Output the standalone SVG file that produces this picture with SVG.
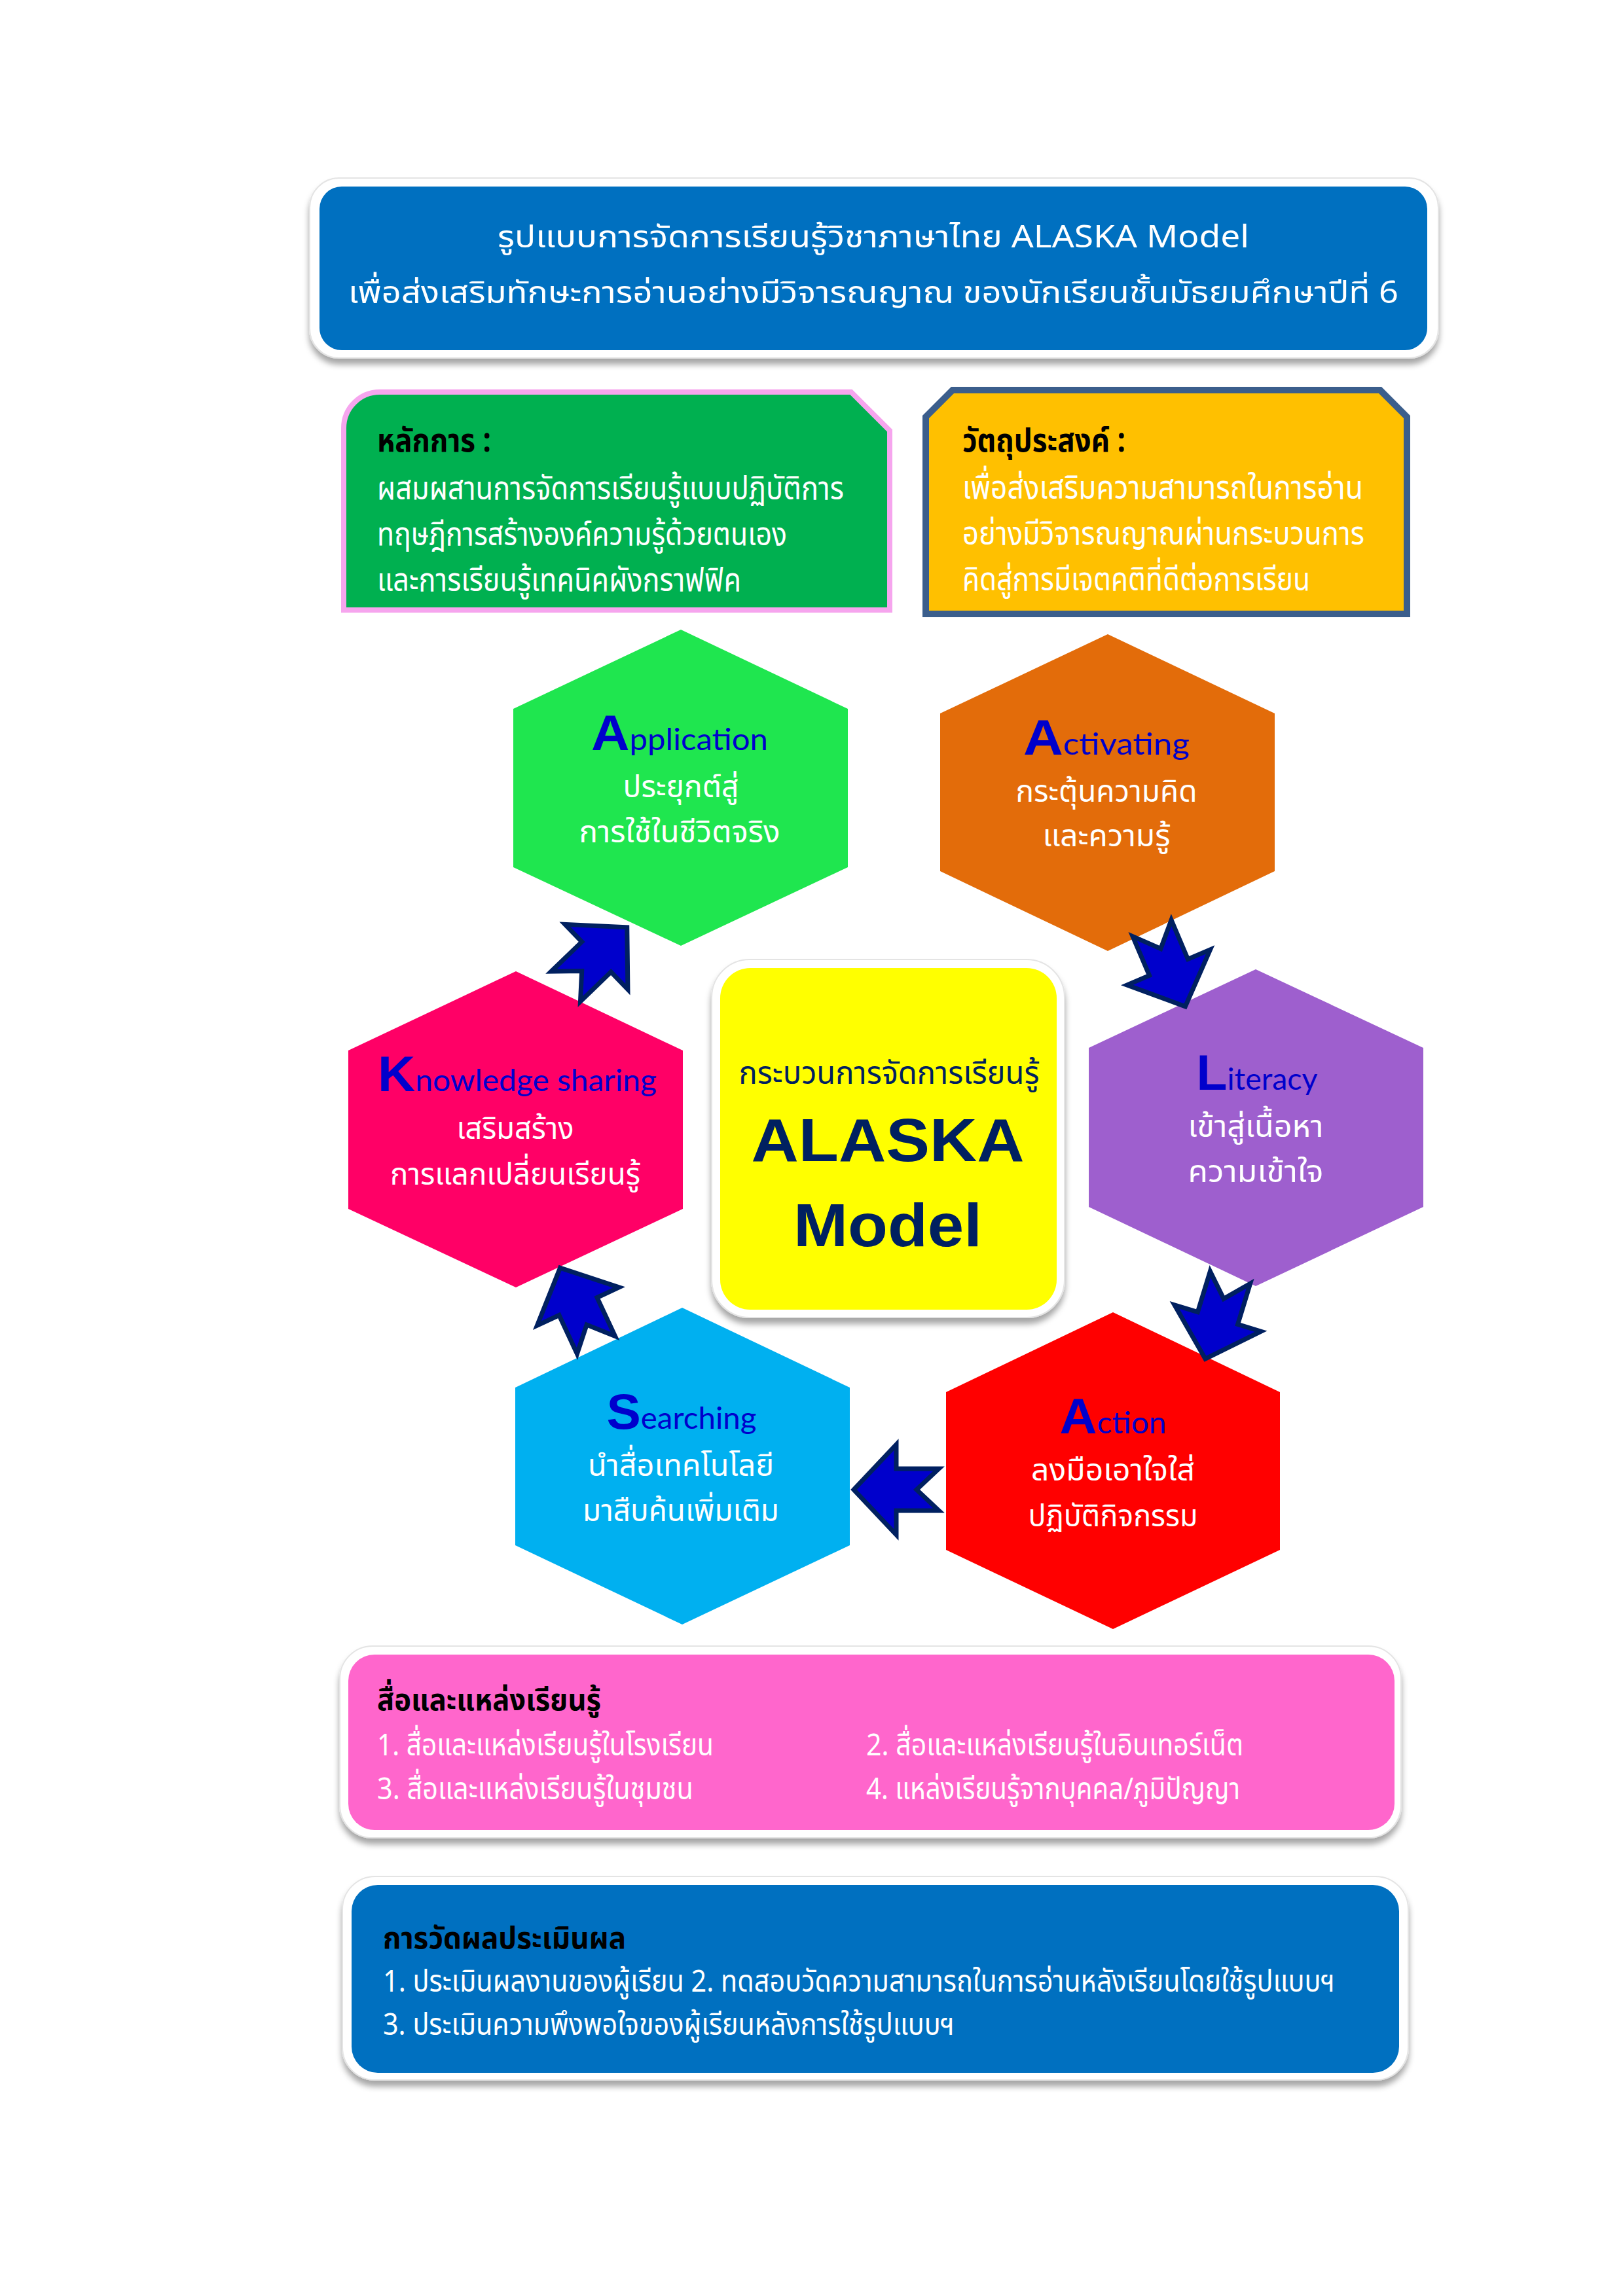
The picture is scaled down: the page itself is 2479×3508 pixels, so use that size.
<svg xmlns="http://www.w3.org/2000/svg" width="2479" height="3508" viewBox="0 0 2479 3508">
<defs>
<style>
.th{font-family:"Noto Sans Thai","Noto Sans Thai UI","Leelawadee UI",Tahoma,"Noto Sans","DejaVu Sans",sans-serif;}
.w{fill:#FFFFFF;}
.k{fill:#000000;}
.bd{font-weight:bold;}
.hx{font-size:47px;text-anchor:middle;}
.en{font-family:Lato,"Open Sans","Noto Sans",sans-serif;fill:#0000CC;font-size:46px;text-anchor:middle;}
.big{font-family:"Liberation Sans",Arial,sans-serif;font-weight:bold;font-size:76px;}
.frame{fill:#FFFFFF;stroke:#E4E4E4;stroke-width:2;filter:url(#sh);}
.arrow{fill:#0000CC;stroke:#002060;stroke-width:7;stroke-linejoin:miter;}
</style>
<filter id="sh" x="-5%" y="-10%" width="110%" height="130%">
<feDropShadow dx="0" dy="9" stdDeviation="5" flood-color="#000000" flood-opacity="0.35"/>
</filter>
<polygon id="arr" points="-65,-32 0,-32 0,-69 65,0 0,69 0,32 -65,32 -31,0"/>
</defs>
<rect width="2479" height="3508" fill="#FFFFFF"/>

<g id="title">
<rect class="frame" x="473" y="272" width="1724" height="275" rx="45"/>
<rect x="488" y="285" width="1692" height="250" rx="34" fill="#0070C0"/>
<text class="th w" x="1334" y="378" font-size="47" text-anchor="middle" textLength="1148" lengthAdjust="spacingAndGlyphs">รูปแบบการจัดการเรียนรู้วิชาภาษาไทย ALASKA Model</text>
<text class="th w" x="1334" y="463" font-size="47" text-anchor="middle" textLength="1604" lengthAdjust="spacingAndGlyphs">เพื่อส่งเสริมทักษะการอ่านอย่างมีวิจารณญาณ ของนักเรียนชั้นมัธยมศึกษาปีที่ 6</text>
</g>

<g id="principle">
<path d="M580,599 L1300,599 L1359,658 L1359,932 L525,932 L525,654 A55,55 0 0 1 580,599 Z" fill="#00B050" stroke="#F6A5EE" stroke-width="8"/>
<text class="th k bd" x="576" y="690" font-size="50" textLength="174" lengthAdjust="spacingAndGlyphs">หลักการ :</text>
<text class="th w" x="576" y="763" font-size="50" textLength="713" lengthAdjust="spacingAndGlyphs">ผสมผสานการจัดการเรียนรู้แบบปฏิบัติการ</text>
<text class="th w" x="576" y="833" font-size="50" textLength="626" lengthAdjust="spacingAndGlyphs">ทฤษฎีการสร้างองค์ความรู้ด้วยตนเอง</text>
<text class="th w" x="576" y="903" font-size="50" textLength="556" lengthAdjust="spacingAndGlyphs">และการเรียนรู้เทคนิคผังกราฟฟิค</text>
</g>

<g id="objective">
<path d="M1455,596 L2108,596 L2149,637 L2149,938 L1414,938 L1414,637 Z" fill="#FFC000" stroke="#3B5E8C" stroke-width="10"/>
<text class="th k bd" x="1470" y="690" font-size="50" textLength="249" lengthAdjust="spacingAndGlyphs">วัตถุประสงค์ :</text>
<text class="th w" x="1470" y="762" font-size="50" textLength="612" lengthAdjust="spacingAndGlyphs">เพื่อส่งเสริมความสามารถในการอ่าน</text>
<text class="th w" x="1470" y="832" font-size="50" textLength="614" lengthAdjust="spacingAndGlyphs">อย่างมีวิจารณญาณผ่านกระบวนการ</text>
<text class="th w" x="1470" y="902" font-size="50" textLength="531" lengthAdjust="spacingAndGlyphs">คิดสู่การมีเจตคติที่ดีต่อการเรียน</text>
</g>

<g id="application">
<polygon points="1040,962 1295,1083 1295,1325 1040,1445 784,1325 784,1083" fill="#1FE64F"/>
<text class="en" x="1038" y="1146" textLength="270" lengthAdjust="spacingAndGlyphs"><tspan class="big">A</tspan>pplication</text>
<text class="th w hx" x="1040" y="1218" textLength="177" lengthAdjust="spacingAndGlyphs">ประยุกต์สู่</text>
<text class="th w hx" x="1038" y="1287" textLength="307" lengthAdjust="spacingAndGlyphs">การใช้ในชีวิตจริง</text>
</g>

<g id="activating">
<polygon points="1692,969 1947,1090 1947,1331 1692,1453 1436,1331 1436,1090" fill="#E36C0A"/>
<text class="en" x="1690" y="1153" textLength="254" lengthAdjust="spacingAndGlyphs"><tspan class="big">A</tspan>ctivating</text>
<text class="th w hx" x="1690" y="1225" textLength="277" lengthAdjust="spacingAndGlyphs">กระตุ้นความคิด</text>
<text class="th w hx" x="1690" y="1293" textLength="195" lengthAdjust="spacingAndGlyphs">และความรู้</text>
</g>

<g id="knowledge">
<polygon points="788,1484 1043,1605 1043,1847 788,1967 532,1847 532,1605" fill="#FF0066"/>
<text class="en" x="790" y="1667" textLength="426" lengthAdjust="spacingAndGlyphs"><tspan class="big">K</tspan>nowledge sharing</text>
<text class="th w hx" x="787" y="1740" textLength="179" lengthAdjust="spacingAndGlyphs">เสริมสร้าง</text>
<text class="th w hx" x="787" y="1810" textLength="382" lengthAdjust="spacingAndGlyphs">การแลกเปลี่ยนเรียนรู้</text>
</g>

<g id="literacy">
<polygon points="1918,1481 2174,1601 2174,1844 1918,1965 1663,1844 1663,1601" fill="#9E5FCE"/>
<text class="en" x="1920" y="1665" textLength="185" lengthAdjust="spacingAndGlyphs"><tspan class="big">L</tspan>iteracy</text>
<text class="th w hx" x="1918" y="1737" textLength="207" lengthAdjust="spacingAndGlyphs">เข้าสู่เนื้อหา</text>
<text class="th w hx" x="1918" y="1806" textLength="207" lengthAdjust="spacingAndGlyphs">ความเข้าใจ</text>
</g>

<g id="searching">
<polygon points="1042,1998 1298,2120 1298,2361 1042,2482 787,2361 787,2120" fill="#00B0F0"/>
<text class="en" x="1041" y="2183" textLength="229" lengthAdjust="spacingAndGlyphs"><tspan class="big">S</tspan>earching</text>
<text class="th w hx" x="1040" y="2255" textLength="284" lengthAdjust="spacingAndGlyphs">นำสื่อเทคโนโลยี</text>
<text class="th w hx" x="1040" y="2324" textLength="300" lengthAdjust="spacingAndGlyphs">มาสืบค้นเพิ่มเติม</text>
</g>

<g id="action">
<polygon points="1700,2005 1955,2127 1955,2368 1700,2489 1445,2368 1445,2127" fill="#FF0000"/>
<text class="en" x="1700" y="2190" textLength="163" lengthAdjust="spacingAndGlyphs"><tspan class="big">A</tspan>ction</text>
<text class="th w hx" x="1700" y="2262" textLength="250" lengthAdjust="spacingAndGlyphs">ลงมือเอาใจใส่</text>
<text class="th w hx" x="1700" y="2332" textLength="259" lengthAdjust="spacingAndGlyphs">ปฏิบัติกิจกรรม</text>
</g>

<g id="center">
<rect class="frame" x="1087" y="1466" width="539" height="547" rx="58"/>
<rect x="1100" y="1479" width="514" height="522" rx="46" fill="#FFFF00"/>
<text class="th" x="1358" y="1656" font-size="48" fill="#002060" text-anchor="middle" textLength="459" lengthAdjust="spacingAndGlyphs">กระบวนการจัดการเรียนรู้</text>
<text x="1356" y="1774" font-family="'Liberation Sans',Arial,sans-serif" font-weight="bold" font-size="92" fill="#002060" text-anchor="middle" textLength="417" lengthAdjust="spacingAndGlyphs">ALASKA</text>
<text x="1356" y="1904" font-family="'Liberation Sans',Arial,sans-serif" font-weight="bold" font-size="92" fill="#002060" text-anchor="middle" textLength="288" lengthAdjust="spacingAndGlyphs">Model</text>
</g>

<g id="connectors">
<use href="#arr" class="arrow" transform="translate(1785,1478) rotate(67)"/>
<use href="#arr" class="arrow" transform="translate(1860,2014) rotate(107)"/>
<use href="#arr" class="arrow" transform="translate(1369,2276) rotate(180)"/>
<use href="#arr" class="arrow" transform="translate(883,1996) rotate(245)"/>
<use href="#arr" class="arrow" transform="translate(911,1462) rotate(-44)"/>
</g>

<g id="resources">
<rect class="frame" x="519" y="2515" width="1621" height="293" rx="50"/>
<rect x="532" y="2528" width="1598" height="268" rx="40" fill="#FF66CC"/>
<text class="th k bd" x="576" y="2613" font-size="46" textLength="342" lengthAdjust="spacingAndGlyphs">สื่อและแหล่งเรียนรู้</text>
<text class="th w" x="576" y="2682" font-size="46" textLength="514" lengthAdjust="spacingAndGlyphs">1. สื่อและแหล่งเรียนรู้ในโรงเรียน</text>
<text class="th w" x="1323" y="2682" font-size="46" textLength="576" lengthAdjust="spacingAndGlyphs">2. สื่อและแหล่งเรียนรู้ในอินเทอร์เน็ต</text>
<text class="th w" x="576" y="2749" font-size="46" textLength="483" lengthAdjust="spacingAndGlyphs">3. สื่อและแหล่งเรียนรู้ในชุมชน</text>
<text class="th w" x="1323" y="2749" font-size="46" textLength="571" lengthAdjust="spacingAndGlyphs">4. แหล่งเรียนรู้จากบุคคล/ภูมิปัญญา</text>
</g>

<g id="evaluation">
<rect class="frame" x="523" y="2867" width="1628" height="311" rx="50"/>
<rect x="537" y="2880" width="1600" height="287" rx="40" fill="#0070C0"/>
<text class="th k bd" x="585" y="2977" font-size="46" textLength="371" lengthAdjust="spacingAndGlyphs">การวัดผลประเมินผล</text>
<text class="th w" x="585" y="3043" font-size="46" textLength="1454" lengthAdjust="spacingAndGlyphs">1. ประเมินผลงานของผู้เรียน 2. ทดสอบวัดความสามารถในการอ่านหลังเรียนโดยใช้รูปแบบฯ</text>
<text class="th w" x="585" y="3109" font-size="46" textLength="873" lengthAdjust="spacingAndGlyphs">3. ประเมินความพึงพอใจของผู้เรียนหลังการใช้รูปแบบฯ</text>
</g>
</svg>
